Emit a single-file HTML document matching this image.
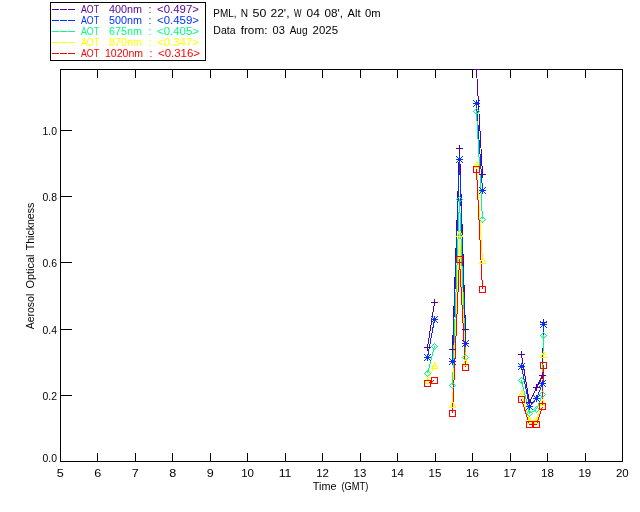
<!DOCTYPE html>
<html><head><meta charset="utf-8"><title>AOT plot</title>
<style>
html,body{margin:0;padding:0;background:#fff;}
svg{display:block;}
text{font-family:"Liberation Sans",sans-serif;font-size:10.5px;fill:#000;}
.l{fill:none;stroke-width:1;shape-rendering:crispEdges;}
.d{fill:none;stroke-width:1;}
</style></head><body>
<svg width="640" height="512" viewBox="0 0 640 512">
<rect width="640" height="512" fill="#fff"/>
<rect class="l" x="50.5" y="2.5" width="155" height="58" stroke="#000"/>
<path class="l" stroke="#560098" d="M52 9.5 h7 M60 9.5 h7 M68 9.5 h7"/>
<text x="81" y="13" style="fill:#560098" textLength="18" lengthAdjust="spacingAndGlyphs">AOT</text><text x="109" y="13" style="fill:#560098" textLength="33" lengthAdjust="spacingAndGlyphs">400nm</text><text x="148.5" y="13" style="fill:#560098">:</text><text x="157" y="13" style="fill:#560098" textLength="42" lengthAdjust="spacingAndGlyphs">&lt;0.497&gt;</text>
<path class="l" stroke="#0030ff" d="M52 20.5 h7 M60 20.5 h7 M68 20.5 h7"/>
<text x="81" y="24" style="fill:#0030ff" textLength="18" lengthAdjust="spacingAndGlyphs">AOT</text><text x="109" y="24" style="fill:#0030ff" textLength="33" lengthAdjust="spacingAndGlyphs">500nm</text><text x="148.5" y="24" style="fill:#0030ff">:</text><text x="157" y="24" style="fill:#0030ff" textLength="42" lengthAdjust="spacingAndGlyphs">&lt;0.459&gt;</text>
<path class="l" stroke="#00ff80" d="M52 31.5 h7 M60 31.5 h7 M68 31.5 h7"/>
<text x="81" y="35" style="fill:#00ff80" textLength="18" lengthAdjust="spacingAndGlyphs">AOT</text><text x="109" y="35" style="fill:#00ff80" textLength="33" lengthAdjust="spacingAndGlyphs">675nm</text><text x="148.5" y="35" style="fill:#00ff80">:</text><text x="157" y="35" style="fill:#00ff80" textLength="42" lengthAdjust="spacingAndGlyphs">&lt;0.405&gt;</text>
<path class="l" stroke="#ffff00" d="M52 42.5 h7 M60 42.5 h7 M68 42.5 h7"/>
<text x="81" y="46" style="fill:#ffff00" textLength="18" lengthAdjust="spacingAndGlyphs">AOT</text><text x="109" y="46" style="fill:#ffff00" textLength="33" lengthAdjust="spacingAndGlyphs">870nm</text><text x="148.5" y="46" style="fill:#ffff00">:</text><text x="157" y="46" style="fill:#ffff00" textLength="42" lengthAdjust="spacingAndGlyphs">&lt;0.347&gt;</text>
<path class="l" stroke="#ff0000" d="M52 53.5 h7 M60 53.5 h7 M68 53.5 h7"/>
<text x="81" y="57" style="fill:#ff0000" textLength="18" lengthAdjust="spacingAndGlyphs">AOT</text><text x="105" y="57" style="fill:#ff0000" textLength="38" lengthAdjust="spacingAndGlyphs">1020nm</text><text x="149.5" y="57" style="fill:#ff0000">:</text><text x="158" y="57" style="fill:#ff0000" textLength="42" lengthAdjust="spacingAndGlyphs">&lt;0.316&gt;</text>
<text x="213.3" y="17" textLength="23.19999999999999" lengthAdjust="spacingAndGlyphs">PML,</text><text x="240.7" y="17" textLength="7.300000000000011" lengthAdjust="spacingAndGlyphs">N</text><text x="252.5" y="17" textLength="13.800000000000011" lengthAdjust="spacingAndGlyphs">50</text><text x="270.5" y="17" textLength="19.0" lengthAdjust="spacingAndGlyphs">22',</text><text x="294" y="17" textLength="7.5" lengthAdjust="spacingAndGlyphs">W</text><text x="306.5" y="17" textLength="13.300000000000011" lengthAdjust="spacingAndGlyphs">04</text><text x="324.5" y="17" textLength="18.5" lengthAdjust="spacingAndGlyphs">08',</text><text x="347.5" y="17" textLength="13.0" lengthAdjust="spacingAndGlyphs">Alt</text><text x="365" y="17" textLength="15.600000000000023" lengthAdjust="spacingAndGlyphs">0m</text>
<text x="213.3" y="34" textLength="22.19999999999999" lengthAdjust="spacingAndGlyphs">Data</text><text x="240.7" y="34" textLength="26.80000000000001" lengthAdjust="spacingAndGlyphs">from:</text><text x="272.5" y="34" textLength="12.300000000000011" lengthAdjust="spacingAndGlyphs">03</text><text x="289.7" y="34" textLength="17.80000000000001" lengthAdjust="spacingAndGlyphs">Aug</text><text x="312.6" y="34" textLength="25.399999999999977" lengthAdjust="spacingAndGlyphs">2025</text>
<rect class="l" x="60.5" y="69.5" width="562" height="392" stroke="#000"/>
<path class="l" stroke="#000" d="M97.5 70v8M97.5 461v-8M135.5 70v8M135.5 461v-8M172.5 70v8M172.5 461v-8M210.5 70v8M210.5 461v-8M247.5 70v8M247.5 461v-8M285.5 70v8M285.5 461v-8M322.5 70v8M322.5 461v-8M360.5 70v8M360.5 461v-8M397.5 70v8M397.5 461v-8M435.5 70v8M435.5 461v-8M472.5 70v8M472.5 461v-8M510.5 70v8M510.5 461v-8M547.5 70v8M547.5 461v-8M585.5 70v8M585.5 461v-8M61 395.5h11M61 329.5h11M61 262.5h11M61 196.5h11M61 130.5h11"/>
<text x="60.3" y="477" text-anchor="middle" textLength="7" lengthAdjust="spacingAndGlyphs">5</text><text x="97.8" y="477" text-anchor="middle" textLength="7" lengthAdjust="spacingAndGlyphs">6</text><text x="135.2" y="477" text-anchor="middle" textLength="7" lengthAdjust="spacingAndGlyphs">7</text><text x="172.7" y="477" text-anchor="middle" textLength="7" lengthAdjust="spacingAndGlyphs">8</text><text x="210.2" y="477" text-anchor="middle" textLength="7" lengthAdjust="spacingAndGlyphs">9</text><text x="247.6" y="477" text-anchor="middle" textLength="12.8" lengthAdjust="spacingAndGlyphs">10</text><text x="285.1" y="477" text-anchor="middle" textLength="12.8" lengthAdjust="spacingAndGlyphs">11</text><text x="322.6" y="477" text-anchor="middle" textLength="12.8" lengthAdjust="spacingAndGlyphs">12</text><text x="360.0" y="477" text-anchor="middle" textLength="12.8" lengthAdjust="spacingAndGlyphs">13</text><text x="397.5" y="477" text-anchor="middle" textLength="12.8" lengthAdjust="spacingAndGlyphs">14</text><text x="435.0" y="477" text-anchor="middle" textLength="12.8" lengthAdjust="spacingAndGlyphs">15</text><text x="472.4" y="477" text-anchor="middle" textLength="12.8" lengthAdjust="spacingAndGlyphs">16</text><text x="509.9" y="477" text-anchor="middle" textLength="12.8" lengthAdjust="spacingAndGlyphs">17</text><text x="547.4" y="477" text-anchor="middle" textLength="12.8" lengthAdjust="spacingAndGlyphs">18</text><text x="584.8" y="477" text-anchor="middle" textLength="12.8" lengthAdjust="spacingAndGlyphs">19</text><text x="622.3" y="477" text-anchor="middle" textLength="12.8" lengthAdjust="spacingAndGlyphs">20</text>
<text x="42.5" y="462" textLength="14.5" lengthAdjust="spacingAndGlyphs">0.0</text><text x="42.5" y="400" textLength="14.5" lengthAdjust="spacingAndGlyphs">0.2</text><text x="42.5" y="334" textLength="14.5" lengthAdjust="spacingAndGlyphs">0.4</text><text x="42.5" y="267" textLength="14.5" lengthAdjust="spacingAndGlyphs">0.6</text><text x="42.5" y="201" textLength="14.5" lengthAdjust="spacingAndGlyphs">0.8</text><text x="42.5" y="135" textLength="14.5" lengthAdjust="spacingAndGlyphs">1.0</text>
<text x="312.8" y="490" textLength="23.69999999999999" lengthAdjust="spacingAndGlyphs">Time</text><text x="341.5" y="490" textLength="26.80000000000001" lengthAdjust="spacingAndGlyphs">(GMT)</text>
<text transform="translate(34,329.3) rotate(-90)" textLength="35.60000000000002" lengthAdjust="spacingAndGlyphs">Aerosol</text><text transform="translate(34,288.5) rotate(-90)" textLength="34.0" lengthAdjust="spacingAndGlyphs">Optical</text><text transform="translate(34,250.3) rotate(-90)" textLength="47.60000000000002" lengthAdjust="spacingAndGlyphs">Thickness</text>
<clipPath id="c"><rect x="60" y="69" width="563" height="393"/></clipPath>
<g clip-path="url(#c)">
<path class="l" stroke="#560098" d="M427.5 347.5 L434.5 302.5M452.5 349.5 L459.5 148.5 L465.5 329.5M476.5 69.5 L482.5 174.5M521.5 354.5 L529.5 402.5 L536.5 387.5 L542.5 375.5 L543.5 322.5"/>
<path class="l" stroke="#0030ff" d="M427.5 357.5 L434.5 319.5M452.5 361.5 L459.5 159.5 L465.5 343.5M476.5 103.5 L482.5 190.5M521.5 366.5 L529.5 406.5 L536.5 398.5 L542.5 383.5 L543.5 324.5"/>
<path class="l" stroke="#00ff80" d="M427.5 373.5 L434.5 346.5M452.5 385.5 L459.5 199.5 L465.5 357.5M476.5 111.5 L482.5 219.5M521.5 380.5 L529.5 413.5 L536.5 409.5 L542.5 394.5 L543.5 335.5"/>
<path class="l" stroke="#ffff00" d="M427.5 380.5 L434.5 365.5M452.5 404.5 L459.5 233.5 L465.5 362.5M476.5 164.5 L482.5 260.5M521.5 393.5 L529.5 420.5 L536.5 420.5 L542.5 402.5 L543.5 354.5"/>
<path class="l" stroke="#ff0000" d="M427.5 383.5 L434.5 380.5M452.5 413.5 L459.5 259.5 L465.5 367.5M476.5 169.5 L482.5 289.5M521.5 399.5 L529.5 424.5 L536.5 424.5 L542.5 406.5 L543.5 365.5"/>
<path shape-rendering="crispEdges" fill="#560098" d="M427 344h1v1h-1zM427 345h1v1h-1zM427 346h1v1h-1zM424 347h7v1h-7zM427 348h1v1h-1zM427 349h1v1h-1zM427 350h1v1h-1zM434 299h1v1h-1zM434 300h1v1h-1zM434 301h1v1h-1zM431 302h7v1h-7zM434 303h1v1h-1zM434 304h1v1h-1zM434 305h1v1h-1zM452 346h1v1h-1zM452 347h1v1h-1zM452 348h1v1h-1zM449 349h7v1h-7zM452 350h1v1h-1zM452 351h1v1h-1zM452 352h1v1h-1zM459 145h1v1h-1zM459 146h1v1h-1zM459 147h1v1h-1zM456 148h7v1h-7zM459 149h1v1h-1zM459 150h1v1h-1zM459 151h1v1h-1zM465 326h1v1h-1zM465 327h1v1h-1zM465 328h1v1h-1zM462 329h7v1h-7zM465 330h1v1h-1zM465 331h1v1h-1zM465 332h1v1h-1zM476 66h1v1h-1zM476 67h1v1h-1zM476 68h1v1h-1zM473 69h7v1h-7zM476 70h1v1h-1zM476 71h1v1h-1zM476 72h1v1h-1zM482 171h1v1h-1zM482 172h1v1h-1zM482 173h1v1h-1zM479 174h7v1h-7zM482 175h1v1h-1zM482 176h1v1h-1zM482 177h1v1h-1zM521 351h1v1h-1zM521 352h1v1h-1zM521 353h1v1h-1zM518 354h7v1h-7zM521 355h1v1h-1zM521 356h1v1h-1zM521 357h1v1h-1zM529 399h1v1h-1zM529 400h1v1h-1zM529 401h1v1h-1zM526 402h7v1h-7zM529 403h1v1h-1zM529 404h1v1h-1zM529 405h1v1h-1zM536 384h1v1h-1zM536 385h1v1h-1zM536 386h1v1h-1zM533 387h7v1h-7zM536 388h1v1h-1zM536 389h1v1h-1zM536 390h1v1h-1zM542 372h1v1h-1zM542 373h1v1h-1zM542 374h1v1h-1zM539 375h7v1h-7zM542 376h1v1h-1zM542 377h1v1h-1zM542 378h1v1h-1zM543 319h1v1h-1zM543 320h1v1h-1zM543 321h1v1h-1zM540 322h7v1h-7zM543 323h1v1h-1zM543 324h1v1h-1zM543 325h1v1h-1z"/>
<path shape-rendering="crispEdges" fill="#0030ff" d="M424 354h1v1h-1zM427 354h1v1h-1zM430 354h1v1h-1zM425 355h1v1h-1zM427 355h1v1h-1zM429 355h1v1h-1zM426 356h3v1h-3zM424 357h7v1h-7zM426 358h3v1h-3zM425 359h1v1h-1zM427 359h1v1h-1zM429 359h1v1h-1zM424 360h1v1h-1zM427 360h1v1h-1zM430 360h1v1h-1zM431 316h1v1h-1zM434 316h1v1h-1zM437 316h1v1h-1zM432 317h1v1h-1zM434 317h1v1h-1zM436 317h1v1h-1zM433 318h3v1h-3zM431 319h7v1h-7zM433 320h3v1h-3zM432 321h1v1h-1zM434 321h1v1h-1zM436 321h1v1h-1zM431 322h1v1h-1zM434 322h1v1h-1zM437 322h1v1h-1zM449 358h1v1h-1zM452 358h1v1h-1zM455 358h1v1h-1zM450 359h1v1h-1zM452 359h1v1h-1zM454 359h1v1h-1zM451 360h3v1h-3zM449 361h7v1h-7zM451 362h3v1h-3zM450 363h1v1h-1zM452 363h1v1h-1zM454 363h1v1h-1zM449 364h1v1h-1zM452 364h1v1h-1zM455 364h1v1h-1zM456 156h1v1h-1zM459 156h1v1h-1zM462 156h1v1h-1zM457 157h1v1h-1zM459 157h1v1h-1zM461 157h1v1h-1zM458 158h3v1h-3zM456 159h7v1h-7zM458 160h3v1h-3zM457 161h1v1h-1zM459 161h1v1h-1zM461 161h1v1h-1zM456 162h1v1h-1zM459 162h1v1h-1zM462 162h1v1h-1zM462 340h1v1h-1zM465 340h1v1h-1zM468 340h1v1h-1zM463 341h1v1h-1zM465 341h1v1h-1zM467 341h1v1h-1zM464 342h3v1h-3zM462 343h7v1h-7zM464 344h3v1h-3zM463 345h1v1h-1zM465 345h1v1h-1zM467 345h1v1h-1zM462 346h1v1h-1zM465 346h1v1h-1zM468 346h1v1h-1zM473 100h1v1h-1zM476 100h1v1h-1zM479 100h1v1h-1zM474 101h1v1h-1zM476 101h1v1h-1zM478 101h1v1h-1zM475 102h3v1h-3zM473 103h7v1h-7zM475 104h3v1h-3zM474 105h1v1h-1zM476 105h1v1h-1zM478 105h1v1h-1zM473 106h1v1h-1zM476 106h1v1h-1zM479 106h1v1h-1zM479 187h1v1h-1zM482 187h1v1h-1zM485 187h1v1h-1zM480 188h1v1h-1zM482 188h1v1h-1zM484 188h1v1h-1zM481 189h3v1h-3zM479 190h7v1h-7zM481 191h3v1h-3zM480 192h1v1h-1zM482 192h1v1h-1zM484 192h1v1h-1zM479 193h1v1h-1zM482 193h1v1h-1zM485 193h1v1h-1zM518 363h1v1h-1zM521 363h1v1h-1zM524 363h1v1h-1zM519 364h1v1h-1zM521 364h1v1h-1zM523 364h1v1h-1zM520 365h3v1h-3zM518 366h7v1h-7zM520 367h3v1h-3zM519 368h1v1h-1zM521 368h1v1h-1zM523 368h1v1h-1zM518 369h1v1h-1zM521 369h1v1h-1zM524 369h1v1h-1zM526 403h1v1h-1zM529 403h1v1h-1zM532 403h1v1h-1zM527 404h1v1h-1zM529 404h1v1h-1zM531 404h1v1h-1zM528 405h3v1h-3zM526 406h7v1h-7zM528 407h3v1h-3zM527 408h1v1h-1zM529 408h1v1h-1zM531 408h1v1h-1zM526 409h1v1h-1zM529 409h1v1h-1zM532 409h1v1h-1zM533 395h1v1h-1zM536 395h1v1h-1zM539 395h1v1h-1zM534 396h1v1h-1zM536 396h1v1h-1zM538 396h1v1h-1zM535 397h3v1h-3zM533 398h7v1h-7zM535 399h3v1h-3zM534 400h1v1h-1zM536 400h1v1h-1zM538 400h1v1h-1zM533 401h1v1h-1zM536 401h1v1h-1zM539 401h1v1h-1zM539 380h1v1h-1zM542 380h1v1h-1zM545 380h1v1h-1zM540 381h1v1h-1zM542 381h1v1h-1zM544 381h1v1h-1zM541 382h3v1h-3zM539 383h7v1h-7zM541 384h3v1h-3zM540 385h1v1h-1zM542 385h1v1h-1zM544 385h1v1h-1zM539 386h1v1h-1zM542 386h1v1h-1zM545 386h1v1h-1zM540 321h1v1h-1zM543 321h1v1h-1zM546 321h1v1h-1zM541 322h1v1h-1zM543 322h1v1h-1zM545 322h1v1h-1zM542 323h3v1h-3zM540 324h7v1h-7zM542 325h3v1h-3zM541 326h1v1h-1zM543 326h1v1h-1zM545 326h1v1h-1zM540 327h1v1h-1zM543 327h1v1h-1zM546 327h1v1h-1z"/>
<path shape-rendering="crispEdges" fill="#00ff80" d="M427 370h1v1h-1zM426 371h1v1h-1zM428 371h1v1h-1zM425 372h1v1h-1zM429 372h1v1h-1zM424 373h1v1h-1zM430 373h1v1h-1zM425 374h1v1h-1zM429 374h1v1h-1zM426 375h1v1h-1zM428 375h1v1h-1zM427 376h1v1h-1zM434 343h1v1h-1zM433 344h1v1h-1zM435 344h1v1h-1zM432 345h1v1h-1zM436 345h1v1h-1zM431 346h1v1h-1zM437 346h1v1h-1zM432 347h1v1h-1zM436 347h1v1h-1zM433 348h1v1h-1zM435 348h1v1h-1zM434 349h1v1h-1zM452 382h1v1h-1zM451 383h1v1h-1zM453 383h1v1h-1zM450 384h1v1h-1zM454 384h1v1h-1zM449 385h1v1h-1zM455 385h1v1h-1zM450 386h1v1h-1zM454 386h1v1h-1zM451 387h1v1h-1zM453 387h1v1h-1zM452 388h1v1h-1zM459 196h1v1h-1zM458 197h1v1h-1zM460 197h1v1h-1zM457 198h1v1h-1zM461 198h1v1h-1zM456 199h1v1h-1zM462 199h1v1h-1zM457 200h1v1h-1zM461 200h1v1h-1zM458 201h1v1h-1zM460 201h1v1h-1zM459 202h1v1h-1zM465 354h1v1h-1zM464 355h1v1h-1zM466 355h1v1h-1zM463 356h1v1h-1zM467 356h1v1h-1zM462 357h1v1h-1zM468 357h1v1h-1zM463 358h1v1h-1zM467 358h1v1h-1zM464 359h1v1h-1zM466 359h1v1h-1zM465 360h1v1h-1zM476 108h1v1h-1zM475 109h1v1h-1zM477 109h1v1h-1zM474 110h1v1h-1zM478 110h1v1h-1zM473 111h1v1h-1zM479 111h1v1h-1zM474 112h1v1h-1zM478 112h1v1h-1zM475 113h1v1h-1zM477 113h1v1h-1zM476 114h1v1h-1zM482 216h1v1h-1zM481 217h1v1h-1zM483 217h1v1h-1zM480 218h1v1h-1zM484 218h1v1h-1zM479 219h1v1h-1zM485 219h1v1h-1zM480 220h1v1h-1zM484 220h1v1h-1zM481 221h1v1h-1zM483 221h1v1h-1zM482 222h1v1h-1zM521 377h1v1h-1zM520 378h1v1h-1zM522 378h1v1h-1zM519 379h1v1h-1zM523 379h1v1h-1zM518 380h1v1h-1zM524 380h1v1h-1zM519 381h1v1h-1zM523 381h1v1h-1zM520 382h1v1h-1zM522 382h1v1h-1zM521 383h1v1h-1zM529 410h1v1h-1zM528 411h1v1h-1zM530 411h1v1h-1zM527 412h1v1h-1zM531 412h1v1h-1zM526 413h1v1h-1zM532 413h1v1h-1zM527 414h1v1h-1zM531 414h1v1h-1zM528 415h1v1h-1zM530 415h1v1h-1zM529 416h1v1h-1zM536 406h1v1h-1zM535 407h1v1h-1zM537 407h1v1h-1zM534 408h1v1h-1zM538 408h1v1h-1zM533 409h1v1h-1zM539 409h1v1h-1zM534 410h1v1h-1zM538 410h1v1h-1zM535 411h1v1h-1zM537 411h1v1h-1zM536 412h1v1h-1zM542 391h1v1h-1zM541 392h1v1h-1zM543 392h1v1h-1zM540 393h1v1h-1zM544 393h1v1h-1zM539 394h1v1h-1zM545 394h1v1h-1zM540 395h1v1h-1zM544 395h1v1h-1zM541 396h1v1h-1zM543 396h1v1h-1zM542 397h1v1h-1zM543 332h1v1h-1zM542 333h1v1h-1zM544 333h1v1h-1zM541 334h1v1h-1zM545 334h1v1h-1zM540 335h1v1h-1zM546 335h1v1h-1zM541 336h1v1h-1zM545 336h1v1h-1zM542 337h1v1h-1zM544 337h1v1h-1zM543 338h1v1h-1z"/>
<path shape-rendering="crispEdges" fill="#ffff00" d="M427 377h1v1h-1zM427 378h2v1h-2zM426 379h1v1h-1zM428 379h1v1h-1zM426 380h1v1h-1zM429 380h1v1h-1zM425 381h1v1h-1zM429 381h1v1h-1zM425 382h1v1h-1zM430 382h1v1h-1zM424 383h7v1h-7zM434 362h1v1h-1zM434 363h2v1h-2zM433 364h1v1h-1zM435 364h1v1h-1zM433 365h1v1h-1zM436 365h1v1h-1zM432 366h1v1h-1zM436 366h1v1h-1zM432 367h1v1h-1zM437 367h1v1h-1zM431 368h7v1h-7zM452 401h1v1h-1zM452 402h2v1h-2zM451 403h1v1h-1zM453 403h1v1h-1zM451 404h1v1h-1zM454 404h1v1h-1zM450 405h1v1h-1zM454 405h1v1h-1zM450 406h1v1h-1zM455 406h1v1h-1zM449 407h7v1h-7zM459 230h1v1h-1zM459 231h2v1h-2zM458 232h1v1h-1zM460 232h1v1h-1zM458 233h1v1h-1zM461 233h1v1h-1zM457 234h1v1h-1zM461 234h1v1h-1zM457 235h1v1h-1zM462 235h1v1h-1zM456 236h7v1h-7zM465 359h1v1h-1zM465 360h2v1h-2zM464 361h1v1h-1zM466 361h1v1h-1zM464 362h1v1h-1zM467 362h1v1h-1zM463 363h1v1h-1zM467 363h1v1h-1zM463 364h1v1h-1zM468 364h1v1h-1zM462 365h7v1h-7zM476 161h1v1h-1zM476 162h2v1h-2zM475 163h1v1h-1zM477 163h1v1h-1zM475 164h1v1h-1zM478 164h1v1h-1zM474 165h1v1h-1zM478 165h1v1h-1zM474 166h1v1h-1zM479 166h1v1h-1zM473 167h7v1h-7zM482 257h1v1h-1zM482 258h2v1h-2zM481 259h1v1h-1zM483 259h1v1h-1zM481 260h1v1h-1zM484 260h1v1h-1zM480 261h1v1h-1zM484 261h1v1h-1zM480 262h1v1h-1zM485 262h1v1h-1zM479 263h7v1h-7zM521 390h1v1h-1zM521 391h2v1h-2zM520 392h1v1h-1zM522 392h1v1h-1zM520 393h1v1h-1zM523 393h1v1h-1zM519 394h1v1h-1zM523 394h1v1h-1zM519 395h1v1h-1zM524 395h1v1h-1zM518 396h7v1h-7zM529 417h1v1h-1zM529 418h2v1h-2zM528 419h1v1h-1zM530 419h1v1h-1zM528 420h1v1h-1zM531 420h1v1h-1zM527 421h1v1h-1zM531 421h1v1h-1zM527 422h1v1h-1zM532 422h1v1h-1zM526 423h7v1h-7zM536 417h1v1h-1zM536 418h2v1h-2zM535 419h1v1h-1zM537 419h1v1h-1zM535 420h1v1h-1zM538 420h1v1h-1zM534 421h1v1h-1zM538 421h1v1h-1zM534 422h1v1h-1zM539 422h1v1h-1zM533 423h7v1h-7zM542 399h1v1h-1zM542 400h2v1h-2zM541 401h1v1h-1zM543 401h1v1h-1zM541 402h1v1h-1zM544 402h1v1h-1zM540 403h1v1h-1zM544 403h1v1h-1zM540 404h1v1h-1zM545 404h1v1h-1zM539 405h7v1h-7zM543 351h1v1h-1zM543 352h2v1h-2zM542 353h1v1h-1zM544 353h1v1h-1zM542 354h1v1h-1zM545 354h1v1h-1zM541 355h1v1h-1zM545 355h1v1h-1zM541 356h1v1h-1zM546 356h1v1h-1zM540 357h7v1h-7z"/>
<path shape-rendering="crispEdges" fill="#ff0000" d="M424 380h7v1h-7zM424 381h1v1h-1zM430 381h1v1h-1zM424 382h1v1h-1zM430 382h1v1h-1zM424 383h1v1h-1zM430 383h1v1h-1zM424 384h1v1h-1zM430 384h1v1h-1zM424 385h1v1h-1zM430 385h1v1h-1zM424 386h7v1h-7zM431 377h7v1h-7zM431 378h1v1h-1zM437 378h1v1h-1zM431 379h1v1h-1zM437 379h1v1h-1zM431 380h1v1h-1zM437 380h1v1h-1zM431 381h1v1h-1zM437 381h1v1h-1zM431 382h1v1h-1zM437 382h1v1h-1zM431 383h7v1h-7zM449 410h7v1h-7zM449 411h1v1h-1zM455 411h1v1h-1zM449 412h1v1h-1zM455 412h1v1h-1zM449 413h1v1h-1zM455 413h1v1h-1zM449 414h1v1h-1zM455 414h1v1h-1zM449 415h1v1h-1zM455 415h1v1h-1zM449 416h7v1h-7zM456 256h7v1h-7zM456 257h1v1h-1zM462 257h1v1h-1zM456 258h1v1h-1zM462 258h1v1h-1zM456 259h1v1h-1zM462 259h1v1h-1zM456 260h1v1h-1zM462 260h1v1h-1zM456 261h1v1h-1zM462 261h1v1h-1zM456 262h7v1h-7zM462 364h7v1h-7zM462 365h1v1h-1zM468 365h1v1h-1zM462 366h1v1h-1zM468 366h1v1h-1zM462 367h1v1h-1zM468 367h1v1h-1zM462 368h1v1h-1zM468 368h1v1h-1zM462 369h1v1h-1zM468 369h1v1h-1zM462 370h7v1h-7zM473 166h7v1h-7zM473 167h1v1h-1zM479 167h1v1h-1zM473 168h1v1h-1zM479 168h1v1h-1zM473 169h1v1h-1zM479 169h1v1h-1zM473 170h1v1h-1zM479 170h1v1h-1zM473 171h1v1h-1zM479 171h1v1h-1zM473 172h7v1h-7zM479 286h7v1h-7zM479 287h1v1h-1zM485 287h1v1h-1zM479 288h1v1h-1zM485 288h1v1h-1zM479 289h1v1h-1zM485 289h1v1h-1zM479 290h1v1h-1zM485 290h1v1h-1zM479 291h1v1h-1zM485 291h1v1h-1zM479 292h7v1h-7zM518 396h7v1h-7zM518 397h1v1h-1zM524 397h1v1h-1zM518 398h1v1h-1zM524 398h1v1h-1zM518 399h1v1h-1zM524 399h1v1h-1zM518 400h1v1h-1zM524 400h1v1h-1zM518 401h1v1h-1zM524 401h1v1h-1zM518 402h7v1h-7zM526 421h7v1h-7zM526 422h1v1h-1zM532 422h1v1h-1zM526 423h1v1h-1zM532 423h1v1h-1zM526 424h1v1h-1zM532 424h1v1h-1zM526 425h1v1h-1zM532 425h1v1h-1zM526 426h1v1h-1zM532 426h1v1h-1zM526 427h7v1h-7zM533 421h7v1h-7zM533 422h1v1h-1zM539 422h1v1h-1zM533 423h1v1h-1zM539 423h1v1h-1zM533 424h1v1h-1zM539 424h1v1h-1zM533 425h1v1h-1zM539 425h1v1h-1zM533 426h1v1h-1zM539 426h1v1h-1zM533 427h7v1h-7zM539 403h7v1h-7zM539 404h1v1h-1zM545 404h1v1h-1zM539 405h1v1h-1zM545 405h1v1h-1zM539 406h1v1h-1zM545 406h1v1h-1zM539 407h1v1h-1zM545 407h1v1h-1zM539 408h1v1h-1zM545 408h1v1h-1zM539 409h7v1h-7zM540 362h7v1h-7zM540 363h1v1h-1zM546 363h1v1h-1zM540 364h1v1h-1zM546 364h1v1h-1zM540 365h1v1h-1zM546 365h1v1h-1zM540 366h1v1h-1zM546 366h1v1h-1zM540 367h1v1h-1zM546 367h1v1h-1zM540 368h7v1h-7z"/>
</g>
</svg>
</body></html>
